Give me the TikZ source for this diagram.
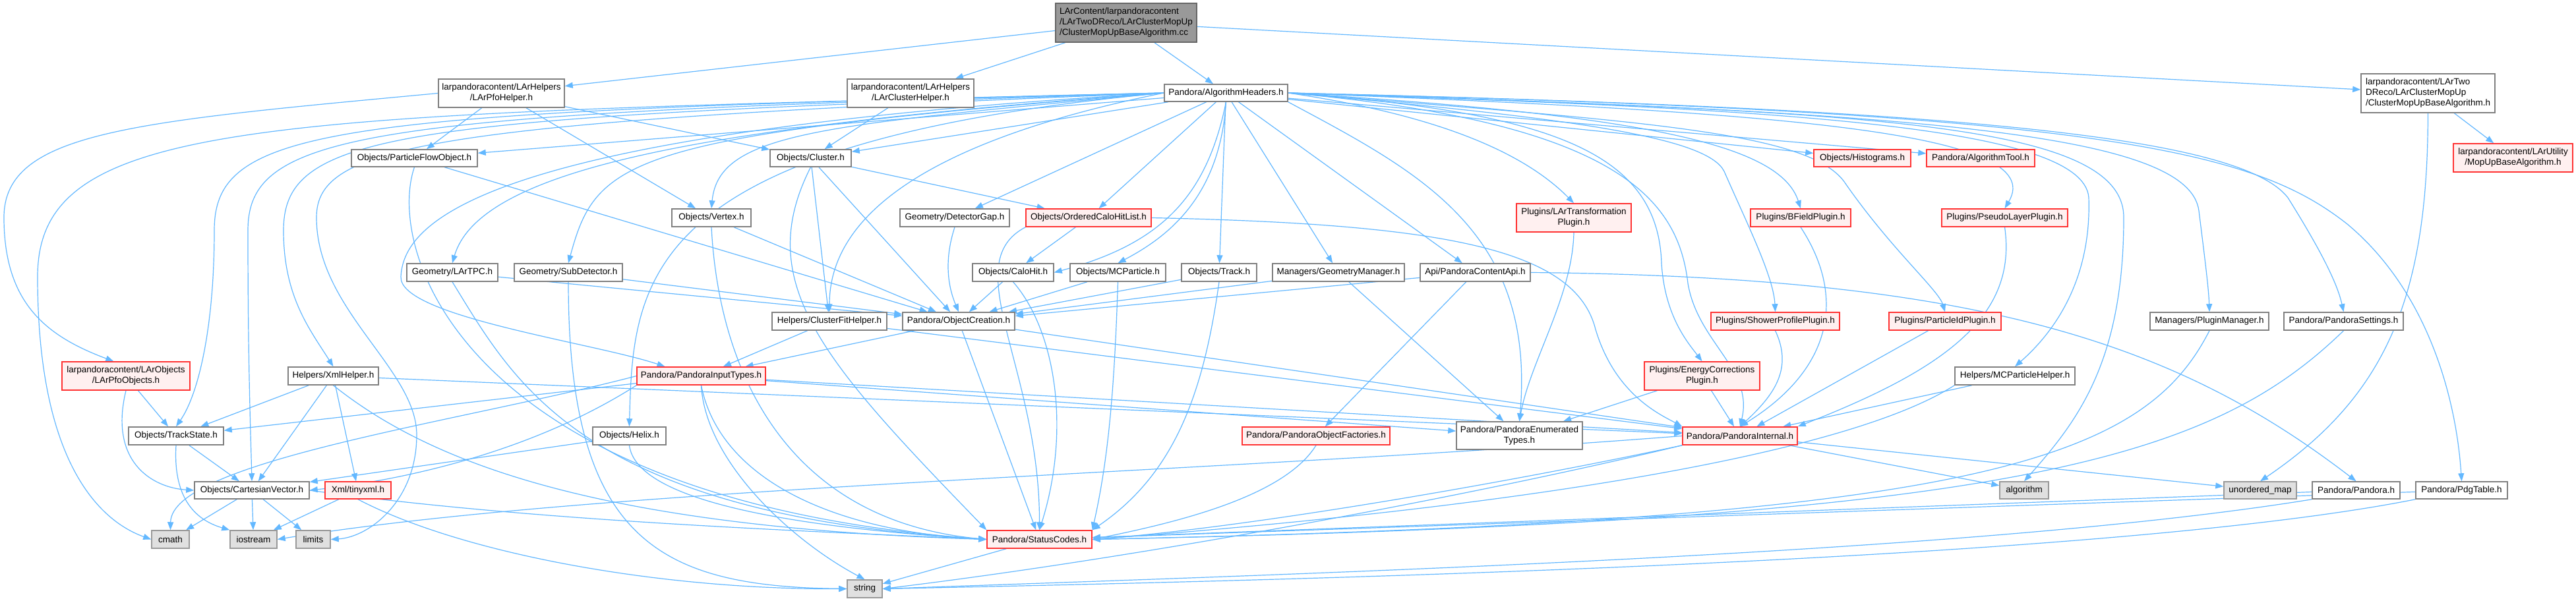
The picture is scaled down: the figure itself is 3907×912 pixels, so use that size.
\documentclass[tikz,border=0pt]{standalone}
\usepackage{fontspec}
\setmainfont{Liberation Sans}
\usetikzlibrary{arrows.meta,backgrounds}
\definecolor{edgec}{HTML}{63B8FF}
\definecolor{boxd}{HTML}{808080}
\definecolor{redb}{HTML}{FF3333}
\definecolor{redf}{HTML}{FFF0F0}
\definecolor{grayf}{HTML}{E0E0E0}
\definecolor{grayb}{HTML}{999999}
\definecolor{topf}{HTML}{999999}
\definecolor{topb}{HTML}{666666}
\newcommand\gnode[7]{\node[#1, minimum width={#4-#3}, minimum height={#6-#5}] (#2) at ({(#3+#4)/2},{(#5+#6)/2}) {#7};}
\begin{document}
\begin{tikzpicture}[x=1pt,y=-1pt,
  font=\fontsize{13.5pt}{16pt}\selectfont,
  base/.style={draw, line width=1.5pt, inner sep=0pt, align=center, anchor=center},
  nb/.style={base, draw=boxd, fill=white},
  rb/.style={base, draw=redb, fill=redf},
  gb/.style={base, draw=grayb, fill=grayf},
  tb/.style={base, draw=topb, fill=topf},
  e/.style={draw=edgec, line width=1.2pt, -{Triangle[length=12pt,width=9pt]}},
]
\useasboundingbox (0,0) rectangle (3907,912);
\gnode{tb,align=left}{top}{1601}{1815}{5}{64}{LArContent/larpandoracontent\\/LArTwoDReco/LArClusterMopUp\\/ClusterMopUpBaseAlgorithm.cc}
\gnode{nb}{pfohelper}{665}{856}{120}{163}{larpandoracontent/LArHelpers\\/LArPfoHelper.h}
\gnode{nb}{clusterhelper}{1285}{1477}{120}{163}{larpandoracontent/LArHelpers\\/LArClusterHelper.h}
\gnode{nb}{alg}{1766}{1953}{128}{154}{Pandora/AlgorithmHeaders.h}
\gnode{nb,align=left}{cmubah}{3581}{3784}{112}{171}{larpandoracontent/LArTwo\\DReco/LArClusterMopUp\\/ClusterMopUpBaseAlgorithm.h}
\gnode{rb}{mopup}{3721}{3902}{218}{261}{larpandoracontent/LArUtility\\/MopUpBaseAlgorithm.h}
\gnode{nb}{pfo}{533}{724}{227}{253}{Objects/ParticleFlowObject.h}
\gnode{nb}{cluster}{1168}{1291}{227}{253}{Objects/Cluster.h}
\gnode{rb}{histo}{2751}{2898}{227}{253}{Objects/Histograms.h}
\gnode{rb}{algtool}{2922}{3086}{227}{253}{Pandora/AlgorithmTool.h}
\gnode{nb}{vertex}{1019}{1139}{317}{344}{Objects/Vertex.h}
\gnode{nb}{detgap}{1365}{1531}{317}{344}{Geometry/DetectorGap.h}
\gnode{rb}{ochl}{1556}{1746}{317}{344}{Objects/OrderedCaloHitList.h}
\gnode{rb}{lartrans}{2300}{2474}{309}{352}{Plugins/LArTransformation\\Plugin.h}
\gnode{rb}{bfield}{2655}{2807}{317}{344}{Plugins/BFieldPlugin.h}
\gnode{rb}{pseudo}{2945}{3136}{317}{344}{Plugins/PseudoLayerPlugin.h}
\gnode{nb}{lartpc}{617}{755}{400}{427}{Geometry/LArTPC.h}
\gnode{nb}{subdet}{780}{944}{400}{427}{Geometry/SubDetector.h}
\gnode{nb}{calohit}{1475}{1598}{400}{427}{Objects/CaloHit.h}
\gnode{nb}{mcparticle}{1623}{1768}{400}{427}{Objects/MCParticle.h}
\gnode{nb}{track}{1792}{1906}{400}{427}{Objects/Track.h}
\gnode{nb}{geomgr}{1930}{2130}{400}{427}{Managers/GeometryManager.h}
\gnode{nb}{api}{2154}{2321}{400}{427}{Api/PandoraContentApi.h}
\gnode{nb}{cfit}{1171}{1345}{474}{501}{Helpers/ClusterFitHelper.h}
\gnode{nb}{objcr}{1369}{1539}{474}{501}{Pandora/ObjectCreation.h}
\gnode{rb}{shower}{2595}{2790}{474}{501}{Plugins/ShowerProfilePlugin.h}
\gnode{rb}{pid}{2865}{3035}{474}{501}{Plugins/ParticleIdPlugin.h}
\gnode{nb}{plugmgr}{3261}{3441}{474}{501}{Managers/PluginManager.h}
\gnode{nb}{settings}{3464}{3645}{474}{501}{Pandora/PandoraSettings.h}
\gnode{rb}{larpfoobj}{94}{288}{549}{592}{larpandoracontent/LArObjects\\/LArPfoObjects.h}
\gnode{nb}{xml}{437}{574}{557}{584}{Helpers/XmlHelper.h}
\gnode{rb}{pit}{966}{1161}{557}{584}{Pandora/PandoraInputTypes.h}
\gnode{rb}{ecorr}{2494}{2669}{549}{592}{Plugins/EnergyCorrections\\Plugin.h}
\gnode{nb}{mcph}{2965}{3147}{557}{584}{Helpers/MCParticleHelper.h}
\gnode{nb}{trackstate}{195}{339}{648}{675}{Objects/TrackState.h}
\gnode{nb}{helix}{899}{1010}{648}{675}{Objects/Helix.h}
\gnode{rb}{factories}{1884}{2108}{648}{675}{Pandora/PandoraObjectFactories.h}
\gnode{nb}{enumtypes}{2209}{2400}{640}{682}{Pandora/PandoraEnumerated\\Types.h}
\gnode{rb}{internal}{2552}{2726}{648}{675}{Pandora/PandoraInternal.h}
\gnode{nb}{cartvec}{295}{469}{731}{757}{Objects/CartesianVector.h}
\gnode{rb}{tinyxml}{493}{593}{731}{757}{Xml/tinyxml.h}
\gnode{gb}{algorithm}{3033}{3107}{731}{757}{algorithm}
\gnode{gb}{umap}{3373}{3483}{731}{757}{unordered\_map}
\gnode{nb}{pandorah}{3507}{3640}{731}{757}{Pandora/Pandora.h}
\gnode{nb}{pdg}{3664}{3803}{731}{757}{Pandora/PdgTable.h}
\gnode{gb}{cmath}{230}{287}{805}{832}{cmath}
\gnode{gb}{iostream}{349}{420}{805}{832}{iostream}
\gnode{gb}{limits}{449}{501}{805}{832}{limits}
\gnode{rb}{status}{1497}{1656}{805}{832}{Pandora/StatusCodes.h}
\gnode{gb}{string}{1285}{1338}{880}{907}{string}
\begin{scope}[on background layer]
\fill[white] (0,0) rectangle (3907,912);
% top
\draw[e] (top) -- (pfohelper);
\draw[e] (top) -- (clusterhelper);
\draw[e] (top) -- (alg);
\draw[e] (top) -- (cmubah);
\draw[e] (cmubah) -- (mopup);
\draw[e] (cmubah.south) .. controls (3682,450) and (3620,600) .. (umap.north);
% pfohelper
\draw[e] (pfohelper.west) .. controls (200,185) and (6,200) .. (6,330) .. controls (6,460) and (70,510) .. (larpfoobj.130);
\draw[e] (pfohelper) -- (pfo);
\draw[e] (pfohelper) -- (cluster);
\draw[e] (pfohelper) -- (vertex);
\draw[e] (clusterhelper) -- (cluster);
% alg to the left
\draw[e] (alg) -- (pfo);
\draw[e] (alg) -- (cluster);
\draw[e] (alg.west) .. controls (1250,190) and (1090,200) .. (vertex.north);
\draw[e] (alg) -- (detgap);
\draw[e] (alg) -- (ochl);
\draw[e] (alg.south) .. controls (1830,300) and (1760,370) .. (calohit.east);
\draw[e] (alg.south) .. controls (1850,300) and (1770,360) .. (mcparticle.north);
\draw[e] (alg) -- (track);
\draw[e] (alg) -- (geomgr);
\draw[e] (alg) -- (api);
\draw[e] (alg.west) .. controls (1100,190) and (730,250) .. (lartpc.north);
\draw[e] (alg.west) .. controls (950,205) and (905,240) .. (subdet.north);
\draw[e] (alg.west) .. controls (975,215) and (960,420) .. (helix.north);
\draw[e] (alg.west) .. controls (1400,215) and (1258,330) .. (cfit.north);
\draw[e] (alg.west) .. controls (750,200) and (612,330) .. (608,420) .. controls (605,480) and (900,520) .. ([xshift=-55pt]pit.north);
\draw[e] (alg.west) .. controls (400,175) and (57,175) .. (57,420) .. controls (57,700) and (150,790) .. (cmath.west);
\draw[e] (alg.west) .. controls (500,170) and (325,190) .. (325,350) .. controls (325,500) and (300,600) .. (trackstate.north);
\draw[e] (alg.west) .. controls (550,172) and (376,200) .. (376,350) .. controls (376,550) and (380,650) .. (cartvec.north);
\draw[e] (alg.west) .. controls (600,178) and (430,200) .. (430,350) .. controls (430,450) and (470,500) .. (xml.north);
\draw[e] (alg.west) .. controls (650,185) and (480,220) .. (480,330) .. controls (480,470) and (632,560) .. (632,660) .. controls (632,760) and (560,815) .. (limits.east);
% alg to the right
\draw[e] (alg) -- (histo);
\draw[e] (alg) -- (algtool);
\draw[e] (alg.east) .. controls (2150,170) and (2300,220) .. (lartrans.north);
\draw[e] (alg.east) .. controls (2500,175) and (2700,220) .. (bfield.north);
\draw[e] (alg.east) .. controls (2700,170) and (3110,200) .. (pseudo.north);
\draw[e] (alg.south east) .. controls (2150,260) and (2330,350) .. (enumtypes.north);
\draw[e] (alg.east) .. controls (2350,170) and (2515,230) .. (2520,400) .. controls (2525,480) and (2560,520) .. (ecorr.north);
\draw[e] (alg.east) .. controls (2450,185) and (2545,300) .. (2560,430) .. controls (2575,520) and (2660,560) .. (internal.north);
\draw[e] (alg.east) .. controls (2400,180) and (2590,210) .. (2615,260) .. controls (2650,340) and (2690,420) .. (shower.north);
\draw[e] (alg.east) .. controls (2500,185) and (2750,200) .. (2800,280) .. controls (2870,380) and (2940,440) .. (pid.north);
\draw[e] (alg.east) .. controls (2700,165) and (3160,190) .. (3168,300) .. controls (3172,420) and (3120,500) .. (mcph.north);
\draw[e] (alg.east) .. controls (2800,170) and (3221,180) .. (3221,330) .. controls (3221,550) and (3150,640) .. (algorithm.north);
\draw[e] (alg.east) .. controls (2900,170) and (3320,200) .. (3335,320) .. controls (3345,400) and (3350,440) .. (plugmgr.north);
\draw[e] (alg.east) .. controls (3000,165) and (3400,210) .. (3470,300) .. controls (3520,380) and (3545,430) .. (settings.north);
\draw[e] (alg.east) .. controls (3200,170) and (3420,230) .. (3560,340) .. controls (3680,440) and (3725,600) .. (pdg.north);
% objects
\draw[e] (pfo) -- (objcr);
\draw[e] (pfo.south) .. controls (585,380) and (700,760) .. (status.west);
\draw[e] (cluster) -- (ochl);
\draw[e] (cluster) -- (cfit);
\draw[e] (cluster) -- (objcr);
\draw[e] (cluster.south) .. controls (1140,430) and (1250,550) .. (status.north west);
\draw[e] (vertex) -- (objcr);
\draw[e] (vertex.south) .. controls (1090,560) and (1190,790) .. (status.west);
\draw[e] (detgap.south) .. controls (1430,400) and (1440,440) .. (objcr.north);
\draw[e] (ochl) -- (calohit);
\draw[e] (ochl.south west) .. controls (1450,400) and (1577,560) .. (status.north);
\draw[e] (ochl.east) .. controls (2200,340) and (2390,380) .. (2420,500) .. controls (2450,600) and (2520,630) .. (internal.north west);
\draw[e] (calohit) -- (objcr);
\draw[e] (calohit.south) .. controls (1600,500) and (1625,650) .. (status.north);
\draw[e] (mcparticle) -- (objcr);
\draw[e] (mcparticle.south) .. controls (1690,600) and (1680,700) .. (status.north east);
\draw[e] (track) -- (objcr);
\draw[e] (track.south) .. controls (1825,600) and (1780,720) .. (status.north east);
\draw[e] (geomgr) -- (objcr);
\draw[e] (geomgr) -- (enumtypes);
\draw[e] (api) -- (objcr);
\draw[e] (api) -- (factories);
\draw[e] (api.east) .. controls (3000,420) and (3300,520) .. (pandorah.north);
\draw[e] (lartpc) -- (objcr);
\draw[e] (lartpc.south) .. controls (780,580) and (880,780) .. (status.west);
\draw[e] (subdet) -- (objcr);
\draw[e] (subdet.south) .. controls (862,820) and (1000,890) .. (string.west);
\draw[e] (cfit) -- (pit);
\draw[e] (cfit) -- (internal);
\draw[e] (objcr) -- (pit);
\draw[e] (objcr) -- (status);
\draw[e] (objcr) -- (internal);
% input types
\draw[e] (pit) -- (trackstate);
\draw[e] (pit.west) .. controls (700,640) and (260,700) .. (cmath.north);
\draw[e] (pit.south west) .. controls (800,690) and (600,730) .. (cartvec.east);
\draw[e] (pit) -- (enumtypes);
\draw[e] (pit) -- (internal);
\draw[e] (pit.south) .. controls (1090,720) and (1250,805) .. (status.west);
\draw[e] (pit.south) .. controls (1070,700) and (1200,820) .. (string.north);
% xml and left side
\draw[e] (xml) -- (trackstate);
\draw[e] (xml) -- (cartvec);
\draw[e] (xml) -- (tinyxml);
\draw[e] (xml.south) .. controls (650,700) and (900,800) .. (status.west);
\draw[e] (xml) -- (internal);
\draw[e] (larpfoobj) -- (trackstate);
\draw[e] (larpfoobj.south) .. controls (165,700) and (230,740) .. (cartvec.west);
\draw[e] (trackstate) -- (cartvec);
\draw[e] (trackstate.south) .. controls (262,760) and (300,790) .. (iostream.north west);
\draw[e] (helix) -- (cartvec);
\draw[e] (helix.south) .. controls (965,760) and (1200,800) .. (status.west);
\draw[e] (cartvec) -- (cmath);
\draw[e] (cartvec) -- (iostream);
\draw[e] (cartvec) -- (limits);
\draw[e] (cartvec.east) .. controls (800,790) and (1200,805) .. (status.west);
\draw[e] (tinyxml) -- (iostream);
\draw[e] (tinyxml.south) .. controls (700,840) and (1000,895) .. (string.west);
\draw[e] (status) -- (string);
\draw[e] (factories.south) .. controls (1950,750) and (1800,790) .. (status.east);
% plugins
\draw[e] (lartrans.south) .. controls (2385,450) and (2320,550) .. (enumtypes.north);
\draw[e] (ecorr) -- (enumtypes);
\draw[e] (ecorr) -- (internal);
\draw[e] (bfield.south) .. controls (2800,450) and (2780,560) .. (internal.north);
\draw[e] (shower.south) .. controls (2720,560) and (2690,600) .. (internal.north);
\draw[e] (pid) -- (internal);
\draw[e] (pseudo.south) .. controls (3060,480) and (2950,560) .. (internal.north east);
\draw[e] (mcph) -- (internal);
\draw[e] (mcph.south west) .. controls (2800,690) and (2300,770) .. (status.east);
% internal and right side
\draw[e] (internal) -- (algorithm);
\draw[e] (internal) -- (umap);
\draw[e] (internal.south west) .. controls (2300,730) and (1900,800) .. (status.east);
\draw[e] (internal.south west) .. controls (2200,760) and (1700,850) .. (string.east);
\draw[e] (internal.west) .. controls (1800,720) and (900,740) .. (iostream.east);
\draw[e] (plugmgr.south) .. controls (3250,700) and (3000,790) .. (status.east);
\draw[e] (settings.south) .. controls (3350,700) and (3050,790) .. (status.east);
\draw[e] (pandorah) -- (status);
\draw[e] (pandorah.south west) .. controls (3000,840) and (2000,870) .. (string.east);
\draw[e] (pdg) -- (status);
\draw[e] (pdg.south west) .. controls (3200,850) and (2000,880) .. (string.east);
\end{scope}
\end{tikzpicture}
\end{document}
